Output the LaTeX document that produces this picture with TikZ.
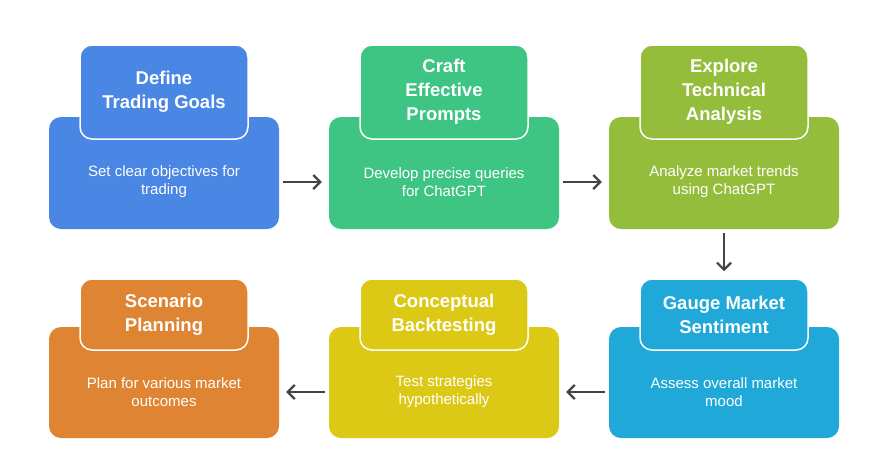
\documentclass[tikz,border=0pt]{standalone}
\usepackage{fontspec}
\setmainfont{Liberation Sans}
\usetikzlibrary{arrows.meta}
\definecolor{goalblue}{HTML}{4A86E4}
\definecolor{promptgreen}{HTML}{3EC483}
\definecolor{techolive}{HTML}{94BD3C}
\definecolor{moodcyan}{HTML}{1FA8D8}
\definecolor{testyellow}{HTML}{DCC916}
\definecolor{planorange}{HTML}{DF8432}
\definecolor{arrowgray}{HTML}{454545}
\begin{document}
\begin{tikzpicture}[x=1pt, y=-1pt,
    body/.style={rectangle, rounded corners=12pt, minimum width=230pt, minimum height=112pt, fill=#1},
    tab/.style={rectangle, rounded corners=12pt, draw=white, line width=1.5pt, minimum width=168pt, fill=#1,
        text=white, font=\bfseries\fontsize{18.5}{24}\selectfont, align=center, inner sep=0pt},
    desc/.style={text=white, font=\fontsize{15}{18}\selectfont, align=center, inner sep=0pt},
    flow/.style={draw=arrowgray, line width=2pt, -{Straight Barb[length=7pt, width=14pt, line width=2.2pt]}, shorten <=4pt, shorten >=7pt}]
    \useasboundingbox (0,0) rectangle (888,464);
    % Top row
    \node[body=goalblue] (body1) at (164,173) {};
    \node[tab=goalblue, minimum height=94pt] (tab1) at (164,92) {Define\\Trading Goals};
    \node[desc] (desc1) at (164,182) {Set clear objectives for\\trading};
    \node[body=promptgreen] (body2) at (444,173) {};
    \node[tab=promptgreen, minimum height=94pt] (tab2) at (444,92) {Craft\\Effective\\Prompts};
    \node[desc] (desc2) at (444,182) {Develop precise queries\\for ChatGPT};
    \node[body=techolive] (body3) at (724,173) {};
    \node[tab=techolive, minimum height=94pt] (tab3) at (724,92) {Explore\\Technical\\Analysis};
    \node[desc] (desc3) at (724,182) {Analyze market trends\\using ChatGPT};
    % Bottom row
    \node[body=moodcyan, minimum height=111pt] (body4) at (724,382.5) {};
    \node[tab=moodcyan, minimum height=71pt] (tab4) at (724,314.5) {Gauge Market\\Sentiment};
    \node[desc] (desc4) at (724,392) {Assess overall market\\mood};
    \node[body=testyellow, minimum height=111pt] (body5) at (444,382.5) {};
    \node[tab=testyellow, minimum height=71pt] (tab5) at (444,314.5) {Conceptual\\Backtesting};
    \node[desc] (desc5) at (444,392) {Test strategies\\hypothetically};
    \node[body=planorange, minimum height=111pt] (body6) at (164,382.5) {};
    \node[tab=planorange, minimum height=71pt] (tab6) at (164,314.5) {Scenario\\Planning};
    \node[desc] (desc6) at (164,392) {Plan for various market\\outcomes};
    % Arrows
    \draw[flow] (body1.east |- desc1) -- (body2.west |- desc2);
    \draw[flow] (body2.east |- desc2) -- (body3.west |- desc3);
    \draw[flow] (body3.south) -- (tab4.north);
    \draw[flow] (body4.west |- desc4) -- (body5.east |- desc5);
    \draw[flow] (body5.west |- desc5) -- (body6.east |- desc6);
\end{tikzpicture}
\end{document}
